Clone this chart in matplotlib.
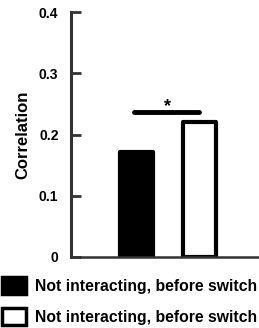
import numpy as np
import matplotlib.pyplot as plt
from matplotlib.patches import Patch

plt.rcParams['font.family'] = ['Liberation Sans', 'DejaVu Sans']
plt.rcParams['font.weight'] = 'bold'

labels = ['Not interacting, before switch', 'Not interacting, before switch']
values = [0.172, 0.220]
face_colors = ['black', 'white']
yticks = [0, 0.1, 0.2, 0.3, 0.4]
ytick_labels = ['0', '0.1', '0.2', '0.3', '0.4']
sig_pair = (0, 1)
sig_text = '*'

fig = plt.figure(figsize=(2.59, 3.28), dpi=100)
ax = fig.add_axes([0.274, 0.2165, 0.726, 0.7465])

x = np.arange(len(values))
bars = ax.bar(x, values, width=0.52, color=face_colors, edgecolor='black',
              linewidth=3, joinstyle='round')

# significance bar
y_sig = 0.237
ax.plot([sig_pair[0] - 0.03, sig_pair[1] + 0.0], [y_sig, y_sig], color='black',
        linewidth=3.5, solid_capstyle='round')
ax.text(np.mean(sig_pair), y_sig - 0.006, sig_text, ha='center', va='bottom',
        fontsize=13, fontweight='bold')

ax.set_xlim(-1.04, 1.95)
ax.set_ylim(0, 0.4)
ax.set_yticks(yticks)
ax.set_yticklabels(ytick_labels)
ax.set_xticks([])
ax.tick_params(axis='y', direction='in', length=7, width=2, color='#333333',
               labelsize=10, pad=9)
for lab in ax.get_yticklabels():
    lab.set_fontweight('bold')
ax.set_ylabel('Correlation', fontsize=12, fontweight='bold', labelpad=6)

ax.spines['top'].set_visible(False)
ax.spines['right'].set_visible(False)
ax.spines['left'].set_linewidth(2.2)
ax.spines['left'].set_color('#333333')
ax.spines['bottom'].set_linewidth(1.8)
ax.spines['bottom'].set_color('#333333')

handles = [Patch(facecolor=c, edgecolor='black', linewidth=2.5) for c in face_colors]
fig.legend(handles, labels, loc='lower left', bbox_to_anchor=(-0.005, 0.0),
           frameon=False, handlelength=1.55, handleheight=1.3,
           handletextpad=0.55, labelspacing=0.85, borderaxespad=0.0,
           borderpad=0.2, prop={'weight': 'bold', 'size': 11.3})

fig.savefig('out.png', dpi=100)
